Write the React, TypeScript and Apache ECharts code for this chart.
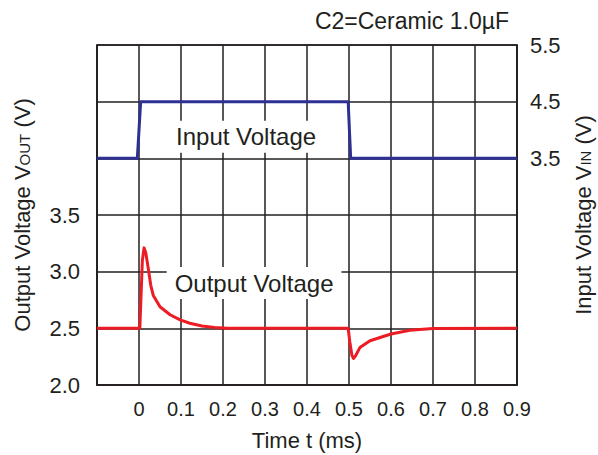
import React, { useEffect, useRef } from "react";
import * as echarts from "echarts";

// Time axis (ms)
const timeTicks = [-0.1, 0, 0.1, 0.2, 0.3, 0.4, 0.5, 0.6, 0.7, 0.8, 0.9];

// Input voltage waveform (V), time in ms
const inputTime = [-0.1, -0.004, 0.004, 0.498, 0.504, 0.9];
const inputValue = [3.5, 3.5, 4.5, 4.5, 3.5, 3.5];

// Output voltage waveform (V), time in ms
const outputTime = [
  -0.1, 0.002, 0.008, 0.012, 0.016, 0.022, 0.028, 0.034, 0.05, 0.074, 0.098,
  0.121, 0.15, 0.18, 0.21, 0.498, 0.502, 0.507, 0.511, 0.516, 0.526, 0.55,
  0.6, 0.645, 0.7, 0.9,
];
const outputValue = [
  2.5, 2.5, 3.1, 3.21, 3.17, 3.03, 2.88, 2.79, 2.69, 2.62, 2.574, 2.545, 2.52,
  2.507, 2.5, 2.5, 2.38, 2.26, 2.235, 2.26, 2.33, 2.39, 2.45, 2.483, 2.498,
  2.5,
];

const leftLabels = [2.0, 2.5, 3.0, 3.5];
const rightLabels = [3.5, 4.5, 5.5];

const titleText = "C2=Ceramic 1.0\u00B5F";
const inputLabel = "Input Voltage";
const outputLabel = "Output Voltage";

const FONT = "'Liberation Sans', Arial, Helvetica, sans-serif";
const INK = "#231f20";
const BLUE = "#2e3192";
const RED = "#ed1c24";

export default function App() {
  const ref = useRef<HTMLDivElement>(null);

  useEffect(() => {
    if (!ref.current) return;
    const chart = echarts.init(ref.current, undefined, { renderer: "svg" });
    const near = (v: number, list: number[]) =>
      list.some((x) => Math.abs(x - v) < 1e-6);

    chart.setOption({
      animation: false,
      backgroundColor: "#ffffff",
      textStyle: { fontFamily: FONT, color: INK },
      title: {
        text: titleText,
        right: 84,
        top: 4,
        textStyle: {
          fontFamily: FONT,
          fontWeight: "normal",
          fontSize: 23,
          color: INK,
        },
      },
      grid: {
        left: 97,
        right: 81,
        top: 45,
        bottom: 70,
        containLabel: false,
        outerBoundsMode: "none",
        show: true,
        borderColor: INK,
        borderWidth: 1.5,
        backgroundColor: "transparent",
      },
      xAxis: {
        type: "value",
        min: timeTicks[0],
        max: timeTicks[timeTicks.length - 1],
        interval: 0.1,
        name: "Time t (ms)",
        nameLocation: "middle",
        nameGap: 44,
        nameTextStyle: { fontFamily: FONT, fontSize: 22, color: INK },
        axisLine: { show: true, onZero: false, lineStyle: { color: INK, width: 1.5 } },
        axisTick: { show: false },
        splitLine: { show: true, lineStyle: { color: INK, width: 1.5 } },
        axisLabel: {
          fontFamily: FONT,
          fontSize: 20,
          color: INK,
          margin: 14,
          formatter: (v: number) => {
            if (v < -0.05) return "";
            if (Math.abs(v) < 1e-6) return "0";
            return v.toFixed(1);
          },
        },
      },
      yAxis: [
        {
          type: "value",
          min: 2.0,
          max: 5.0,
          interval: 0.5,
          position: "left",
          name: "{a|Output Voltage V}{s|OUT}{a| (V)}",
          nameLocation: "middle",
          nameRotate: 90,
          nameGap: 64,
          nameMoveOverlap: false,
          nameTextStyle: {
            fontFamily: FONT,
            color: INK,
            rich: {
              a: { fontFamily: FONT, fontSize: 22, color: INK, verticalAlign: "bottom" },
              s: { fontFamily: FONT, fontSize: 15, color: INK, verticalAlign: "bottom", padding: [0, 0, 1, 0] },
            },
          },
          axisLine: { show: true, onZero: false, lineStyle: { color: INK, width: 1.5 } },
          axisTick: { show: false },
          splitLine: { show: true, lineStyle: { color: INK, width: 1.5 } },
          axisLabel: {
            fontFamily: FONT,
            fontSize: 22,
            color: INK,
            margin: 17,
            align: "right",
            formatter: (v: number) => (near(v, leftLabels) ? v.toFixed(1) : ""),
          },
        },
        {
          type: "value",
          min: -0.5,
          max: 5.5,
          interval: 1,
          position: "right",
          name: "{a|Input Voltage V}{s|IN}{a| (V)}",
          nameLocation: "middle",
          nameRotate: 90,
          nameGap: 55,
          nameMoveOverlap: false,
          nameTextStyle: {
            fontFamily: FONT,
            color: INK,
            rich: {
              a: { fontFamily: FONT, fontSize: 22, color: INK, verticalAlign: "bottom" },
              s: { fontFamily: FONT, fontSize: 15, color: INK, verticalAlign: "bottom", padding: [0, 0, 1, 0] },
            },
          },
          axisLine: { show: true, onZero: false, lineStyle: { color: INK, width: 1.5 } },
          axisTick: { show: false },
          splitLine: { show: false },
          axisLabel: {
            fontFamily: FONT,
            fontSize: 22,
            color: INK,
            margin: 13,
            formatter: (v: number) => (near(v, rightLabels) ? v.toFixed(1) : ""),
          },
        },
      ],
      series: [
        {
          name: "Input Voltage",
          type: "line",
          yAxisIndex: 1,
          data: inputTime.map((t, i) => [t, inputValue[i]]),
          showSymbol: false,
          symbol: "none",
          lineStyle: { color: BLUE, width: 3, join: "round" },
          itemStyle: { color: BLUE },
          z: 3,
          markPoint: {
            symbol: "rect",
            symbolSize: 1,
            itemStyle: { color: "transparent" },
            silent: true,
            data: [
              {
                coord: [0.255, 3.88],
                label: {
                  show: true,
                  position: "inside",
                  formatter: inputLabel,
                  fontFamily: FONT,
                  fontSize: 24,
                  color: INK,
                  backgroundColor: "#ffffff",
                  padding: [4, 8],
                },
              },
            ],
          },
        },
        {
          name: "Output Voltage",
          type: "line",
          yAxisIndex: 0,
          data: outputTime.map((t, i) => [t, outputValue[i]]),
          showSymbol: false,
          symbol: "none",
          lineStyle: { color: RED, width: 3, join: "round" },
          itemStyle: { color: RED },
          z: 3,
          markPoint: {
            symbol: "rect",
            symbolSize: 1,
            itemStyle: { color: "transparent" },
            silent: true,
            data: [
              {
                coord: [0.274, 2.9],
                label: {
                  show: true,
                  position: "inside",
                  formatter: outputLabel,
                  fontFamily: FONT,
                  fontSize: 24,
                  color: INK,
                  backgroundColor: "#ffffff",
                  padding: [4, 8],
                },
              },
            ],
          },
        },
      ],
    });

    return () => chart.dispose();
  }, []);

  return (
    <div
      ref={ref}
      style={{ position: "fixed", left: 0, top: 0, width: 598, height: 455 }}
    />
  );
}
